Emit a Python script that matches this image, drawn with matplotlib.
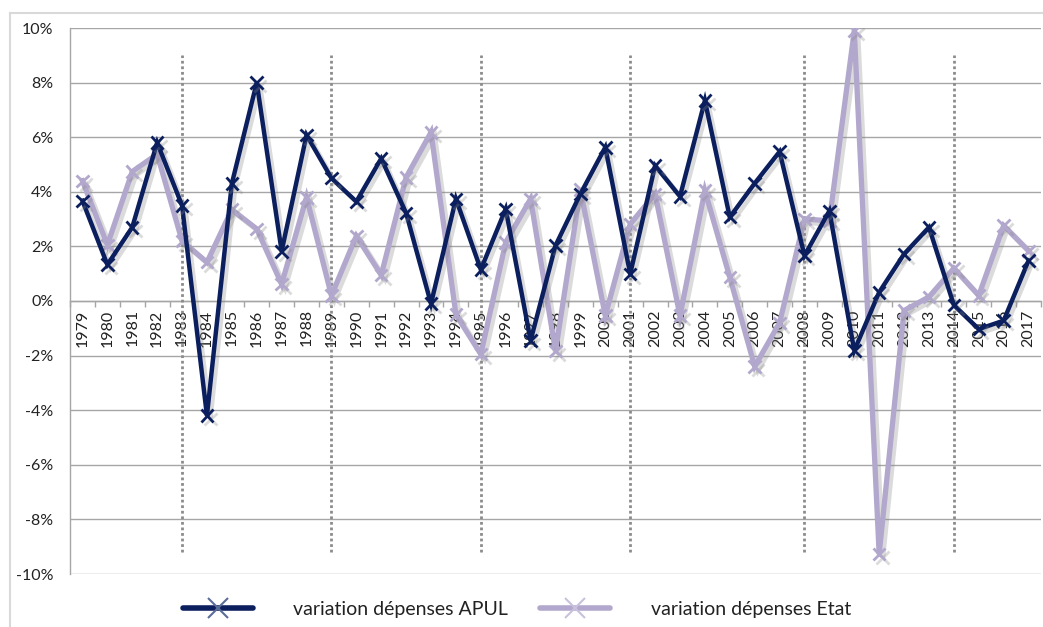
import matplotlib
matplotlib.use("Agg")
import matplotlib.pyplot as plt
import matplotlib.patheffects as pe
from matplotlib.lines import Line2D
import numpy as np

years = [str(y) for y in range(1979, 2018)]
apul = [3.67, 1.33, 2.70, 5.80, 3.50, -4.20, 4.30, 8.00, 1.82, 6.08,
        4.50, 3.64, 5.22, 3.22, -0.10, 3.74, 1.15, 3.37, -1.45, 2.03,
        3.92, 5.63, 0.99, 4.96, 3.83, 7.34, 3.07, 4.31, 5.47, 1.66,
        3.30, -1.82, 0.32, 1.72, 2.70, -0.15, -1.03, -0.72, 1.48]
etat = [4.40, 2.05, 4.74, 5.38, 2.20, 1.42, 3.35, 2.64, 0.62, 3.80,
        0.20, 2.38, 0.95, 4.53, 6.18, -0.50, -1.95, 2.15, 3.74, -1.84,
        4.08, -0.54, 2.82, 3.92, -0.54, 4.04, 0.87, -2.40, -0.80, 3.00,
        2.94, 9.90, -9.27, -0.35, 0.15, 1.20, 0.20, 2.76, 1.84]
marker_years = ["1983", "1989", "1995", "2001", "2008", "2014"]
yticks = [-10, -8, -6, -4, -2, 0, 2, 4, 6, 8, 10]

navy = "#0B1F5E"
lilac = "#B2A7CC"
grid_c = "#A6A6A6"
txt_c = "#222222"

plt.rcParams['font.family'] = ['Lato', 'DejaVu Sans']

fig = plt.figure(figsize=(10.43, 6.27), dpi=100)
W, H = 1043, 627
ax = fig.add_axes([70 / W, 1 - 574 / H, (1041 - 70) / W, (574 - 28) / H])

x = np.arange(len(years))
shadow = [pe.SimpleLineShadow(offset=(2.5, -2.5), shadow_color="#888888", alpha=0.3), pe.Normal()]

ax.plot(x, etat, color=lilac, lw=3.8, marker='x', ms=9, mew=2, zorder=4,
        path_effects=shadow, solid_joinstyle='miter')
ax.plot(x, apul, color=navy, lw=3.2, marker='x', ms=9, mew=2, zorder=5,
        path_effects=shadow, solid_joinstyle='miter')

# vertical dotted markers
for yr in marker_years:
    i = years.index(yr)
    ax.plot([i, i], [-9.2, 9.0], color="#8C8C8C", lw=2.0, ls=(0, (1, 1.0)), zorder=3)

ax.set_xlim(-0.5, len(years) - 0.5)
ax.set_ylim(-10, 10)
ax.set_yticks(yticks)
ax.set_yticklabels([f"{v}%" for v in yticks], fontsize=11.5, color=txt_c)
ax.tick_params(axis='y', length=0, pad=12)
ax.grid(axis='y', color=grid_c, lw=1.0, zorder=1)
ax.set_axisbelow(True)

for s in ['top', 'right']:
    ax.spines[s].set_visible(False)
ax.spines['left'].set_color(grid_c)
ax.spines['left'].set_linewidth(1.0)
ax.spines['bottom'].set_position(('data', 0))
ax.spines['bottom'].set_color(grid_c)
ax.spines['bottom'].set_linewidth(1.0)

ax.set_xticks(np.arange(-0.5, len(years)), minor=False)
ax.set_xticklabels([])
ax.tick_params(axis='x', which='major', length=4, direction='out', color=grid_c, width=1)
ax.set_xticks(x, minor=True)
ax.set_xticklabels(years, minor=True, rotation=90, fontsize=11.5, color=txt_c)
ax.tick_params(axis='x', which='minor', length=0, pad=6)

# legend
h1 = Line2D([], [], color=navy, lw=4, marker='x', ms=14, mew=1.5, mec="#5B6C98",
            solid_capstyle='round')
h2 = Line2D([], [], color=lilac, lw=4, marker='x', ms=14, mew=1.5, mec="#C9C1DC",
            solid_capstyle='round')
fig.legend([h1, h2], ["variation dépenses APUL", "variation dépenses Etat"],
           loc='center', bbox_to_anchor=(517 / W, 1 - 609 / H), ncol=2, frameon=False,
           fontsize=14, handlelength=3.6, handletextpad=2.1, columnspacing=1.65,
           labelcolor=txt_c)

# outer chart frame
fig.add_artist(Line2D([10 / W, 10 / W], [0, 1 - 13 / H], color="#D9D9D9", lw=1.5))
fig.add_artist(Line2D([10 / W, 1], [1 - 13 / H, 1 - 13 / H], color="#D9D9D9", lw=1.5))

fig.savefig("out.png", dpi=100, facecolor="white")
